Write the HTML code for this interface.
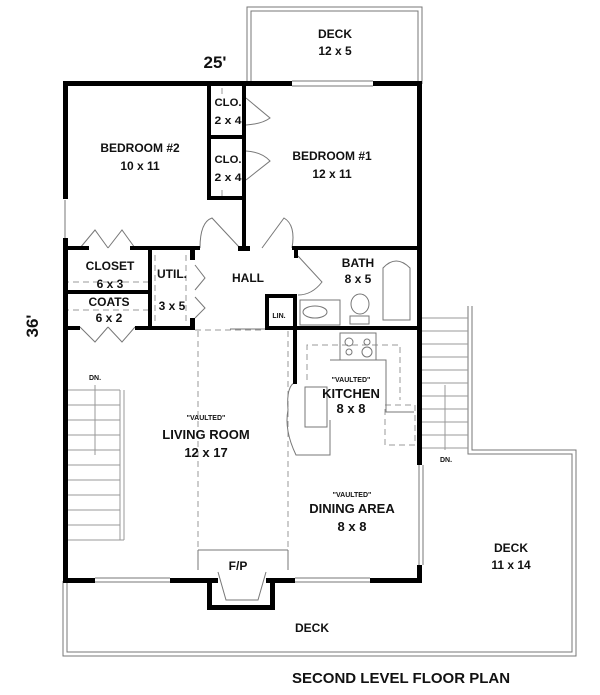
<!DOCTYPE html>
<html><head><meta charset="utf-8"><style>
html,body{margin:0;padding:0;background:#fff;}
svg{display:block;}
text{font-family:"Liberation Sans",Arial,sans-serif;font-weight:bold;fill:#111;text-anchor:middle;}
</style></head><body>
<svg width="600" height="695" viewBox="0 0 600 695" xmlns="http://www.w3.org/2000/svg">
<g fill="none" stroke="#777" stroke-width="1">
<path d="M247 84 V7 H422 V84"/><path d="M251 84 V11 H418 V84"/>
<path d="M63 581 V656 H576 V450 H472 V306"/>
<path d="M67 581 V652 H572 V454 H468 V306"/>
<g stroke="#999">
<line x1="422" y1="318" x2="468" y2="318"/><line x1="422" y1="331" x2="468" y2="331"/>
<line x1="422" y1="344" x2="468" y2="344"/><line x1="422" y1="357" x2="468" y2="357"/>
<line x1="422" y1="370" x2="468" y2="370"/><line x1="422" y1="383" x2="468" y2="383"/>
<line x1="422" y1="396" x2="468" y2="396"/><line x1="422" y1="409" x2="468" y2="409"/>
<line x1="422" y1="422" x2="468" y2="422"/><line x1="422" y1="435" x2="468" y2="435"/>
<line x1="422" y1="448" x2="468" y2="448"/>
<line x1="445" y1="385" x2="445" y2="450"/>
<line x1="68" y1="390" x2="120" y2="390"/><line x1="120" y1="390" x2="120" y2="540"/><line x1="124" y1="390" x2="124" y2="540"/>
<line x1="68" y1="405" x2="120" y2="405"/><line x1="68" y1="420" x2="120" y2="420"/>
<line x1="68" y1="435" x2="120" y2="435"/><line x1="68" y1="450" x2="120" y2="450"/>
<line x1="68" y1="465" x2="120" y2="465"/><line x1="68" y1="480" x2="120" y2="480"/>
<line x1="68" y1="495" x2="120" y2="495"/><line x1="68" y1="510" x2="120" y2="510"/>
<line x1="68" y1="525" x2="120" y2="525"/><line x1="68" y1="540" x2="124" y2="540"/>
<line x1="95" y1="385" x2="95" y2="455"/>
</g>
<g stroke-dasharray="6,4" stroke="#999">
<line x1="198" y1="331" x2="198" y2="550"/><line x1="288" y1="331" x2="288" y2="550"/>
<line x1="195" y1="330" x2="265" y2="330"/>
<path d="M307 380 V345 H400 V400"/>
<path d="M385 405 H415 V445 H385 Z"/>
<line x1="63" y1="282" x2="150" y2="282"/><line x1="63" y1="310" x2="150" y2="310"/>
<line x1="155" y1="255" x2="155" y2="325"/><line x1="186" y1="255" x2="186" y2="325"/>
<line x1="222" y1="88" x2="222" y2="95"/><line x1="222" y1="190" x2="222" y2="200"/>
</g>
<path d="M198 550 H288 M198 550 V570 M288 550 V570 M218 572 L226 600 H258 L266 572"/>
<rect x="340" y="333" width="36" height="27"/>
<circle cx="349" cy="342" r="4"/><circle cx="367" cy="342" r="3"/><circle cx="349" cy="352" r="3"/><circle cx="367" cy="352" r="5"/>
<path d="M330 360 H386 V412 H414"/>
<path d="M296 382 Q286 385 288 410 Q284 430 296 455 H330 V420"/>
<rect x="305" y="387" width="22" height="40"/>
<path d="M383 320 V268 Q396 254 410 268 V320 Z"/>
<rect x="300" y="300" width="40" height="25"/><ellipse cx="315" cy="312" rx="12" ry="6"/>
<ellipse cx="360" cy="304" rx="9" ry="10"/><rect x="350" y="316" width="19" height="8"/>
<path d="M246 98 L270 118 Q262 124 246 125"/>
<path d="M246 180 L270 161 Q262 152 246 151"/>
<path d="M200 248 Q200 222 212 218 L240 248"/>
<path d="M292 248 Q296 225 284 218 L262 248"/>
<path d="M298 256 L322 282 Q312 295 298 295"/>
<path d="M80 248 L95 230 L108 248 M108 248 L122 230 L135 248"/>
<path d="M80 327 L95 342 L108 327 M108 327 L122 342 L135 327"/>
<path d="M195 265 L205 278 L195 290 M195 297 L205 308 L195 318"/>
<line x1="292" y1="81" x2="373" y2="81"/><line x1="292" y1="86" x2="373" y2="86"/>
<line x1="65" y1="200" x2="65" y2="238"/>
<line x1="419" y1="465" x2="419" y2="565"/><line x1="423" y1="465" x2="423" y2="565"/>
<line x1="95" y1="578" x2="170" y2="578"/><line x1="95" y1="582" x2="170" y2="582"/>
<line x1="295" y1="578" x2="370" y2="578"/><line x1="295" y1="582" x2="370" y2="582"/>
<line x1="230" y1="329" x2="290" y2="329"/>
</g>
<g fill="#000">
<rect x="63" y="81" width="229" height="5"/><rect x="373" y="81" width="49" height="5"/>
<rect x="63" y="81" width="5" height="118"/><rect x="63" y="238" width="5" height="345"/>
<rect x="417" y="81" width="5" height="384"/><rect x="417" y="565" width="5" height="18"/>
<rect x="63" y="578" width="32" height="5"/><rect x="170" y="578" width="48" height="5"/>
<rect x="266" y="578" width="29" height="5"/><rect x="370" y="578" width="52" height="5"/>
<rect x="207" y="578" width="5" height="32"/><rect x="270" y="578" width="5" height="32"/><rect x="207" y="605" width="68" height="5"/>
<rect x="207" y="86" width="4" height="114"/><rect x="207" y="135" width="39" height="4"/>
<rect x="207" y="196" width="39" height="4"/><rect x="242" y="86" width="4" height="165"/>
<rect x="63" y="246" width="26" height="4"/><rect x="130" y="246" width="70" height="4"/>
<rect x="238" y="246" width="12" height="5"/><rect x="292" y="246" width="130" height="4"/>
<rect x="63" y="290" width="87" height="4"/><rect x="148" y="248" width="4" height="82"/>
<rect x="190" y="248" width="5" height="12"/><rect x="190" y="318" width="5" height="12"/>
<rect x="63" y="326" width="17" height="4"/><rect x="135" y="326" width="60" height="4"/>
<rect x="294" y="248" width="4" height="10"/><rect x="293" y="294" width="4" height="90"/>
<rect x="265" y="294" width="30" height="4"/><rect x="265" y="294" width="4" height="36"/>
<rect x="265" y="326" width="157" height="4"/>
</g>
<text x="215" y="68" font-size="17">25'</text>
<text x="38" y="326" font-size="17" transform="rotate(-90 38 326)">36'</text>
<text x="335" y="38" font-size="12">DECK</text><text x="335" y="55" font-size="12">12 x 5</text>
<text x="140" y="152" font-size="12">BEDROOM #2</text><text x="140" y="170" font-size="12">10 x 11</text>
<text x="332" y="160" font-size="12">BEDROOM #1</text><text x="332" y="178" font-size="12">12 x 11</text>
<text x="228" y="106" font-size="11" textLength="27" lengthAdjust="spacingAndGlyphs">CLO.</text><text x="228" y="124" font-size="11" textLength="27" lengthAdjust="spacingAndGlyphs">2 x 4</text>
<text x="228" y="163" font-size="11" textLength="27" lengthAdjust="spacingAndGlyphs">CLO.</text><text x="228" y="181" font-size="11" textLength="27" lengthAdjust="spacingAndGlyphs">2 x 4</text>
<text x="110" y="270" font-size="12">CLOSET</text><text x="110" y="288" font-size="12">6 x 3</text>
<text x="109" y="306" font-size="12">COATS</text><text x="109" y="322" font-size="12">6 x 2</text>
<text x="172" y="278" font-size="12">UTIL.</text><text x="172" y="310" font-size="12">3 x 5</text>
<text x="248" y="282" font-size="12">HALL</text>
<text x="358" y="267" font-size="12">BATH</text><text x="358" y="283" font-size="12">8 x 5</text>
<text x="279" y="318" font-size="7">LIN.</text>
<text x="95" y="380" font-size="7">DN.</text><text x="446" y="462" font-size="7">DN.</text>
<text x="206" y="420" font-size="7">"VAULTED"</text>
<text x="206" y="439" font-size="13">LIVING ROOM</text><text x="206" y="457" font-size="13">12 x 17</text>
<text x="351" y="382" font-size="7">"VAULTED"</text>
<text x="351" y="398" font-size="13">KITCHEN</text><text x="351" y="413" font-size="13">8 x 8</text>
<text x="352" y="497" font-size="7">"VAULTED"</text>
<text x="352" y="513" font-size="13">DINING AREA</text><text x="352" y="531" font-size="13">8 x 8</text>
<text x="238" y="570" font-size="12">F/P</text>
<text x="511" y="552" font-size="12">DECK</text><text x="511" y="569" font-size="12">11 x 14</text>
<text x="312" y="632" font-size="12">DECK</text>
<text x="401" y="683" font-size="15">SECOND LEVEL FLOOR PLAN</text>
</svg>
</body></html>
